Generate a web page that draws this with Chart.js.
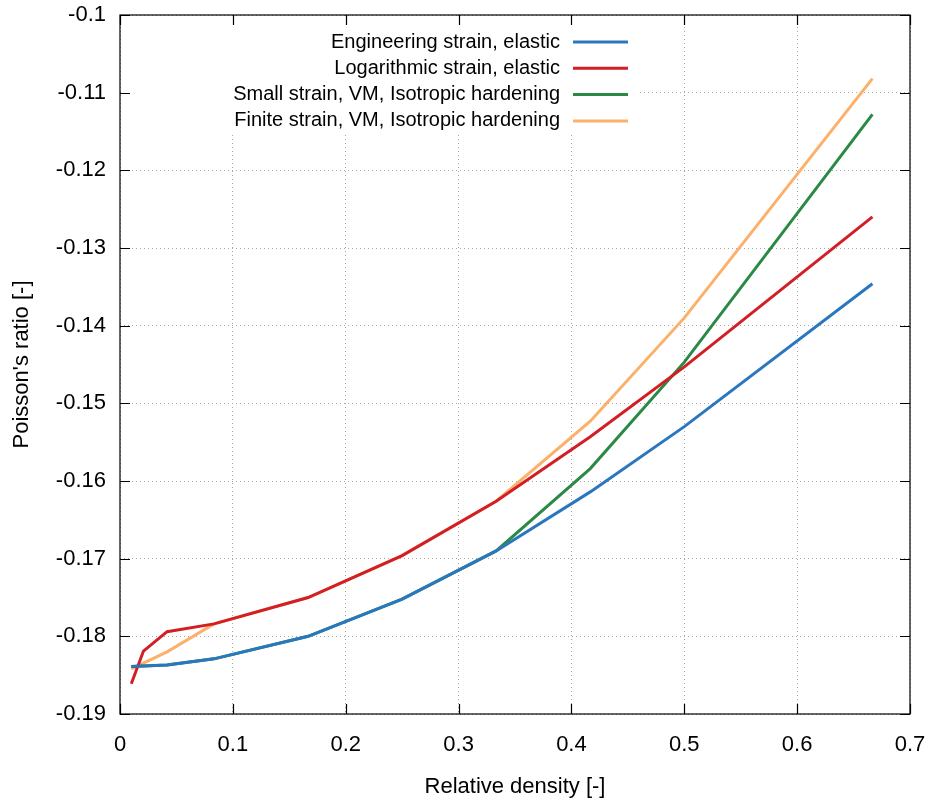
<!DOCTYPE html>
<html>
<head>
<meta charset="utf-8">
<script src="https://cdn.jsdelivr.net/npm/chart.js@4.4.0/dist/chart.umd.min.js"></script>
<style>
  body { margin: 0; background: #fff; }
</style>
</head>
<body>
<canvas id="grafico" width="933" height="805"></canvas>
<script>
// densita' relativa (asse x) e coefficienti di Poisson per ogni modello
var xEng = [0.01, 0.0417, 0.0833, 0.1667, 0.25, 0.3333, 0.4167, 0.5, 0.6667];
var yEng = [-0.1839, -0.1837, -0.1829, -0.1800, -0.1752, -0.1690, -0.1614, -0.1530, -0.1346];

var xLog = [0.01, 0.0208, 0.0417, 0.0833, 0.1667, 0.25, 0.3333, 0.4167, 0.5, 0.6667];
var yLog = [-0.1861, -0.1819, -0.1794, -0.1784, -0.1750, -0.1696, -0.1626, -0.1543, -0.1453, -0.1260];

var xSmall = [0.01, 0.0417, 0.0833, 0.1667, 0.25, 0.3333, 0.4167, 0.5, 0.6667];
var ySmall = [-0.1839, -0.1837, -0.1829, -0.1800, -0.1752, -0.1690, -0.1584, -0.1447, -0.1128];

var xFinite = [0.01, 0.0417, 0.0833, 0.1667, 0.25, 0.3333, 0.4167, 0.5, 0.6667];
var yFinite = [-0.1842, -0.1820, -0.1784, -0.1750, -0.1696, -0.1626, -0.1523, -0.1390, -0.1082];

var etichette = ['Engineering strain, elastic', 'Logarithmic strain, elastic',
  'Small strain, VM, Isotropic hardening', 'Finite strain, VM, Isotropic hardening'];
var colori = ['#2a77c0', '#d21f26', '#2a8a45', '#fdb06a'];

var xTicks = [0, 0.1, 0.2, 0.3, 0.4, 0.5, 0.6, 0.7];
var yTicks = [-0.19, -0.18, -0.17, -0.16, -0.15, -0.14, -0.13, -0.12, -0.11, -0.1];

function punti(xs, ys) {
  var arr = [];
  for (var i = 0; i < xs.length; i++) {
    arr.push({ x: xs[i], y: ys[i] });
  }
  return arr;
}

var serie = [punti(xEng, yEng), punti(xLog, yLog), punti(xSmall, ySmall), punti(xFinite, yFinite)];
var datasets = [];
for (var i = 0; i < serie.length; i++) {
  datasets.push({
    label: etichette[i],
    data: serie[i],
    borderColor: colori[i],
    backgroundColor: colori[i],
    borderWidth: 3,
    showLine: true,
    pointRadius: 0,
    tension: 0
  });
}

var FONT = 'Liberation Sans, Arial, sans-serif';

// legenda in stile gnuplot: riquadro bianco che copre la griglia, testo allineato a destra
var legendaBox = { left: 121, top: 16, right: 640, bottom: 132 };
var legendaGnuplot = {
  id: 'legendaGnuplot',
  beforeDatasetsDraw: function (chart) {
    var ctx = chart.ctx;
    ctx.save();
    ctx.fillStyle = '#fff';
    ctx.fillRect(legendaBox.left, legendaBox.top, legendaBox.right - legendaBox.left, legendaBox.bottom - legendaBox.top);
    ctx.restore();
  },
  afterDraw: function (chart) {
    var ctx = chart.ctx;
    ctx.save();
    ctx.font = '20px ' + FONT;
    ctx.textAlign = 'right';
    ctx.textBaseline = 'middle';
    var ds = chart.data.datasets;
    for (var i = 0; i < ds.length; i++) {
      var y = 42 + i * 26.3;
      ctx.fillStyle = '#000';
      ctx.fillText(ds[i].label, 560, y);
      ctx.strokeStyle = ds[i].borderColor;
      ctx.lineWidth = 3;
      ctx.beginPath();
      ctx.moveTo(573, y);
      ctx.lineTo(628, y);
      ctx.stroke();
    }
    ctx.restore();
  }
};

// cornice e tacche verso l'interno su tutti e quattro i lati
var cornice = {
  id: 'cornice',
  afterDatasetsDraw: function (chart) {
    var ctx = chart.ctx;
    var a = chart.chartArea;
    var sx = chart.scales.x, sy = chart.scales.y;
    ctx.save();
    ctx.strokeStyle = '#000';
    ctx.lineWidth = 1.2;
    ctx.strokeRect(a.left, a.top, a.right - a.left, a.bottom - a.top);
    ctx.beginPath();
    for (var i = 0; i < xTicks.length; i++) {
      var px = Math.round(sx.getPixelForValue(xTicks[i])) + 0.5;
      ctx.moveTo(px, a.bottom); ctx.lineTo(px, a.bottom - 10);
      ctx.moveTo(px, a.top); ctx.lineTo(px, a.top + 10);
    }
    for (var j = 0; j < yTicks.length; j++) {
      var py = Math.round(sy.getPixelForValue(yTicks[j])) + 0.5;
      ctx.moveTo(a.left, py); ctx.lineTo(a.left + 10, py);
      ctx.moveTo(a.right, py); ctx.lineTo(a.right - 10, py);
    }
    ctx.stroke();
    ctx.restore();
  }
};

var grafico = new Chart(document.getElementById('grafico'), {
  type: 'scatter',
  data: { datasets: datasets },
  options: {
    responsive: false,
    animation: false,
    layout: { padding: { top: 15, right: 23, left: 0, bottom: 0 } },
    plugins: {
      legend: { display: false },
      tooltip: { enabled: false }
    },
    scales: {
      x: {
        type: 'linear',
        min: 0,
        max: 0.7,
        afterBuildTicks: function (scale) {
          scale.ticks = xTicks.map(function (v) { return { value: v }; });
        },
        afterFit: function (scale) {
          scale.height = 91;
          scale.paddingLeft = 0;
          scale.paddingRight = 0;
        },
        border: { display: false, dash: [1, 3] },
        grid: { color: '#a8a8a8', lineWidth: 1, drawTicks: false },
        ticks: {
          padding: 18,
          color: '#000',
          font: { family: FONT, size: 22 },
          callback: function (v) { return String(Math.round(v * 10) / 10); }
        },
        title: {
          display: true,
          text: 'Relative density [-]',
          color: '#000',
          font: { family: FONT, size: 22 },
          padding: { top: 0, bottom: 5 }
        }
      },
      y: {
        type: 'linear',
        min: -0.19,
        max: -0.1,
        afterBuildTicks: function (scale) {
          scale.ticks = yTicks.map(function (v) { return { value: v }; });
        },
        afterFit: function (scale) {
          scale.width = 120;
          scale.paddingTop = 0;
          scale.paddingBottom = 0;
        },
        border: { display: false, dash: [1, 3] },
        grid: { color: '#a8a8a8', lineWidth: 1, drawTicks: false },
        ticks: {
          padding: 14,
          color: '#000',
          font: { family: FONT, size: 22 },
          callback: function (v) { return String(Math.round(v * 100) / 100); }
        },
        title: {
          display: true,
          text: "Poisson's ratio [-]",
          color: '#000',
          font: { family: FONT, size: 22 },
          padding: { top: 9, bottom: 0 }
        }
      }
    }
  },
  plugins: [legendaGnuplot, cornice]
});
</script>
</body>
</html>
